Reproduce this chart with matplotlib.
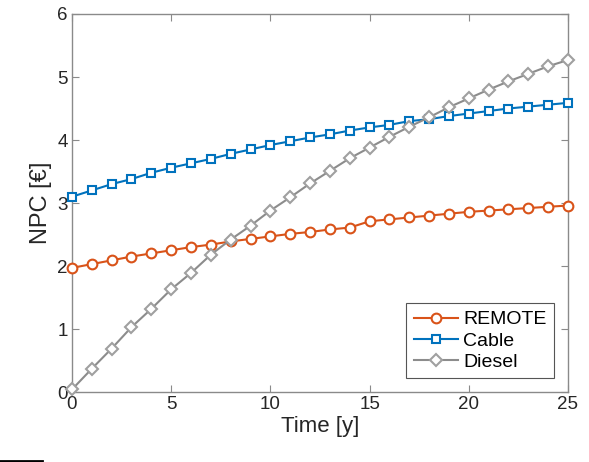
import numpy as np
import matplotlib.pyplot as plt
import matplotlib.lines as mlines

plt.rcParams['font.family'] = ['Liberation Sans', 'DejaVu Sans']

years = np.arange(0, 26)

remote = [1.97, 2.03, 2.09, 2.15, 2.20, 2.25, 2.30, 2.34, 2.39, 2.43, 2.47,
          2.51, 2.54, 2.58, 2.61, 2.71, 2.74, 2.77, 2.80, 2.83, 2.86, 2.88,
          2.90, 2.92, 2.94, 2.96]
cable = [3.10, 3.20, 3.30, 3.38, 3.48, 3.56, 3.63, 3.70, 3.78, 3.85, 3.92,
         3.98, 4.04, 4.09, 4.15, 4.20, 4.24, 4.30, 4.33, 4.38, 4.42, 4.46,
         4.50, 4.53, 4.56, 4.59]
diesel = [0.04, 0.37, 0.69, 1.03, 1.32, 1.63, 1.89, 2.18, 2.42, 2.64, 2.88,
          3.09, 3.31, 3.51, 3.71, 3.88, 4.05, 4.21, 4.36, 4.52, 4.66, 4.80,
          4.93, 5.05, 5.17, 5.27]

fig = plt.figure(figsize=(5.89, 4.62), dpi=100)
ax = fig.add_axes([0.1222, 0.1515, 0.8421, 0.8182])

ax.plot(years, remote, color="#D95319", marker="o", markersize=7,
        markerfacecolor="white", markeredgewidth=1.5, linewidth=1.5,
        label="REMOTE", clip_on=False, zorder=3)
ax.plot(years, cable, color="#0072BD", marker="s", markersize=6,
        markerfacecolor="white", markeredgewidth=1.5, linewidth=1.5,
        label="Cable", clip_on=False, zorder=3)
ax.plot(years, diesel, color="#8C8C8C", marker="D", markersize=6.5,
        markerfacecolor="white", markeredgecolor="#A0A0A0",
        markeredgewidth=1.5, linewidth=1.5, label="Diesel",
        clip_on=False, zorder=3)

ax.set_xlim(0, 25)
ax.set_ylim(0, 6)
ax.set_xticks([0, 5, 10, 15, 20, 25])
ax.set_yticks([0, 1, 2, 3, 4, 5, 6])
ax.set_xlabel("Time [y]", fontsize=16, color="#262626", labelpad=2)
ax.set_ylabel("NPC [€]", fontsize=17, color="#262626", labelpad=4)

for s in ax.spines.values():
    s.set_color("#8A8A8A")
    s.set_linewidth(1.0)
ax.tick_params(direction="in", top=True, right=True, length=5,
               color="#8A8A8A", labelsize=13.5, labelcolor="#262626", pad=3)

leg = ax.legend(loc="lower right", fontsize=14, fancybox=False,
                framealpha=1, edgecolor="#555555", borderpad=0.4,
                handlelength=2.3, labelspacing=0.18, handletextpad=0.25,
                borderaxespad=0.7)
leg.get_frame().set_linewidth(0.8)

# small dark mark at the bottom left corner of the original image
fig.add_artist(mlines.Line2D([0, 0.072], [0.003, 0.003], color="black",
                             linewidth=2, transform=fig.transFigure))

fig.savefig("out.png", dpi=100)
